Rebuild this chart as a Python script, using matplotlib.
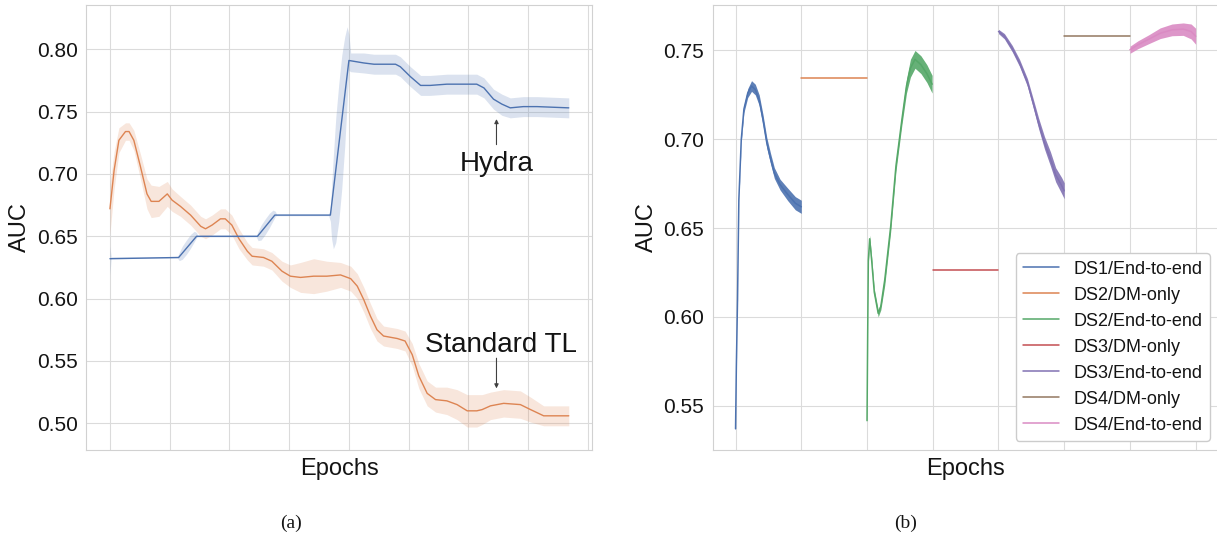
import numpy as np
import matplotlib
matplotlib.use('Agg')
import matplotlib.pyplot as plt
import seaborn as sns

sns.set_style('whitegrid', {'grid.color': '.86', 'axes.edgecolor': '.82'})
plt.rcParams['font.family'] = ['Liberation Sans', 'DejaVu Sans']
plt.rcParams['text.color'] = '0.08'
plt.rcParams['axes.labelcolor'] = '0.08'
plt.rcParams['ytick.color'] = '0.08'

# (a) Hydra vs Standard TL
hydra_epoch = [0, 115, 145, 247, 276, 369, 400, 425, 442, 478, 486, 503, 520, 536,
               564, 614, 626, 642, 656, 670, 692, 715, 768]
hydra_auc = [0.632, 0.633, 0.650, 0.650, 0.667, 0.667, 0.791, 0.789, 0.788, 0.788,
             0.786, 0.778, 0.771, 0.771, 0.772, 0.772, 0.769, 0.760, 0.756, 0.753,
             0.754, 0.754, 0.753]

hydra_band_epoch = [0, 2, 113, 116, 121, 128, 135, 141, 145, 147, 245, 248, 253, 260,
                    267, 273, 277, 279, 366, 369, 371, 374, 378, 383, 388, 393, 397,
                    400, 403, 425, 442, 478, 486, 503, 520, 536, 564, 614, 626, 642,
                    656, 670, 692, 715, 768]
hydra_lo = [0.619, 0.6325, 0.6325, 0.6305, 0.6315, 0.6355, 0.6405, 0.6455, 0.6490, 0.6495,
            0.6495, 0.6465, 0.6470, 0.6515, 0.6570, 0.6625, 0.6660, 0.6665,
            0.6665, 0.662, 0.648, 0.640, 0.645, 0.662, 0.688, 0.722, 0.757,
            0.783, 0.782, 0.781, 0.780, 0.780, 0.778, 0.770, 0.763, 0.763, 0.764,
            0.764, 0.761, 0.752, 0.747, 0.745, 0.746, 0.746, 0.745]
hydra_hi = [0.642, 0.6335, 0.6335, 0.6370, 0.6420, 0.6470, 0.6515, 0.6540, 0.6530, 0.6505,
            0.6505, 0.6540, 0.6590, 0.6640, 0.6685, 0.6710, 0.6700, 0.6675,
            0.6675, 0.672, 0.690, 0.715, 0.745, 0.772, 0.795, 0.810, 0.818,
            0.812, 0.797, 0.797, 0.796, 0.796, 0.794, 0.786, 0.779, 0.779, 0.780,
            0.780, 0.777, 0.768, 0.764, 0.761, 0.762, 0.762, 0.761]

tl_epoch = [0, 7, 15, 26, 32, 40, 51, 62, 69, 82, 96, 104, 118, 135, 152, 160, 171,
            185, 193, 204, 216, 230, 238, 257, 271, 288, 302, 319, 341, 363, 386, 403,
            414, 425, 436, 447, 458, 481, 494, 506, 517, 531, 545, 564, 581, 598, 614,
            623, 637, 659, 687, 704, 726, 748, 768]
tl_auc = [0.672, 0.703, 0.727, 0.734, 0.734, 0.727, 0.706, 0.684, 0.678, 0.678,
          0.684, 0.679, 0.674, 0.667, 0.658, 0.656, 0.659, 0.664, 0.664, 0.659,
          0.648, 0.638, 0.634, 0.633, 0.630, 0.622, 0.618, 0.617, 0.618, 0.618,
          0.619, 0.616, 0.610, 0.599, 0.586, 0.575, 0.570, 0.568, 0.566, 0.555,
          0.538, 0.524, 0.519, 0.518, 0.515, 0.510, 0.510, 0.511, 0.514, 0.516,
          0.515, 0.511, 0.506, 0.506, 0.506]
tl_spread = [0.020, 0.015, 0.010, 0.007, 0.007, 0.008, 0.010, 0.012, 0.013, 0.012,
             0.010, 0.009, 0.008, 0.008, 0.008, 0.008, 0.008, 0.008, 0.008, 0.008,
             0.008, 0.007, 0.007, 0.007, 0.007, 0.008, 0.009, 0.012, 0.014, 0.012,
             0.010, 0.010, 0.010, 0.010, 0.010, 0.009, 0.008, 0.008, 0.008, 0.009,
             0.010, 0.010, 0.010, 0.011, 0.012, 0.013, 0.013, 0.012, 0.011, 0.011,
             0.011, 0.010, 0.008, 0.008, 0.008]

# (b) per-dataset curves (x in units of 100 epochs)
ds1_x = [0, 0.012, 0.03, 0.05, 0.087, 0.127, 0.185, 0.243, 0.30, 0.36, 0.417, 0.475,
         0.533, 0.59, 0.677, 0.793, 0.909, 1.0]
ds1_y = [0.537, 0.572, 0.610, 0.666, 0.700, 0.717, 0.726, 0.730, 0.728, 0.722, 0.711,
         0.698, 0.689, 0.681, 0.6745, 0.669, 0.664, 0.662]
ds1_noise = [0.0005, 0.0005, 0.0005, 0.001, 0.0015, 0.002, 0.0025, 0.003, 0.003, 0.003,
             0.003, 0.003, 0.003, 0.003, 0.003, 0.0035, 0.0037, 0.0037]

ds2_dm_x = [1, 2]
ds2_dm_y = [0.7346, 0.7346]

ds2_x = [2.0, 2.01, 2.02, 2.04, 2.07, 2.11, 2.17, 2.21, 2.27, 2.36, 2.44, 2.53, 2.60,
         2.66, 2.73, 2.82, 2.91, 2.99]
ds2_y = [0.5416, 0.591, 0.632, 0.644, 0.632, 0.614, 0.602, 0.606, 0.621, 0.651, 0.685,
         0.711, 0.730, 0.740, 0.745, 0.742, 0.737, 0.731]
ds2_noise = [0.0005, 0.001, 0.002, 0.002, 0.002, 0.002, 0.002, 0.002, 0.003, 0.003,
             0.003, 0.003, 0.004, 0.005, 0.005, 0.005, 0.005, 0.005]

ds3_dm_x = [3, 4]
ds3_dm_y = [0.6266, 0.6266]

ds3_x = [4.0, 4.09, 4.21, 4.32, 4.44, 4.53, 4.61, 4.70, 4.79, 4.87, 4.96, 5.0]
ds3_y = [0.7607, 0.758, 0.751, 0.743, 0.732, 0.720, 0.709, 0.698, 0.689, 0.680, 0.674,
         0.671]
ds3_noise = [0.0012, 0.0015, 0.0018, 0.002, 0.0022, 0.0025, 0.003, 0.0035, 0.004, 0.004,
             0.0045, 0.0045]

ds4_dm_x = [5, 6]
ds4_dm_y = [0.7582, 0.7582]

ds4_x = [6.0, 6.12, 6.29, 6.46, 6.64, 6.81, 6.93, 7.0]
ds4_y = [0.7504, 0.7532, 0.7564, 0.7597, 0.7616, 0.762, 0.7607, 0.758]
ds4_noise = [0.002, 0.0022, 0.0025, 0.003, 0.0033, 0.0035, 0.0042, 0.0045]

colors = sns.color_palette('deep')

fig = plt.figure(figsize=(12.17, 5.43), dpi=100)
ax1 = fig.add_axes([0.0707, 0.1713, 0.4158, 0.8195])
ax2 = fig.add_axes([0.5855, 0.1713, 0.4159, 0.8195])

# --- (a)
tl_auc_arr = np.array(tl_auc)
tl_spread_arr = np.array(tl_spread)
ax1.fill_between(tl_epoch, tl_auc_arr - tl_spread_arr, tl_auc_arr + tl_spread_arr,
                 color=colors[1], alpha=0.2, lw=0)
ax1.plot(tl_epoch, tl_auc, color=colors[1], lw=1.0)
ax1.fill_between(hydra_band_epoch, hydra_lo, hydra_hi, color=colors[0], alpha=0.2, lw=0)
ax1.plot(hydra_epoch, hydra_auc, color=colors[0], lw=1.0)

ax1.text(647, 0.702, 'Hydra', ha='center', va='baseline', fontsize=20)
ax1.annotate('', xy=(647, 0.744), xytext=(647, 0.7235),
             arrowprops=dict(arrowstyle='-|>', color='0.25', lw=0.8, mutation_scale=6,
                             shrinkA=0, shrinkB=0))
ax1.text(655, 0.5574, 'Standard TL', ha='center', va='baseline', fontsize=20)
ax1.annotate('', xy=(647, 0.528), xytext=(647, 0.5522),
             arrowprops=dict(arrowstyle='-|>', color='0.25', lw=0.8, mutation_scale=6,
                             shrinkA=0, shrinkB=0))

ax1.set_xlim(-40, 807)
ax1.set_ylim(0.4786, 0.8355)
ax1.set_xticks(np.arange(0, 801, 100))
ax1.set_yticks([0.50, 0.55, 0.60, 0.65, 0.70, 0.75, 0.80])
ax1.set_yticklabels(['0.50', '0.55', '0.60', '0.65', '0.70', '0.75', '0.80'])

# --- (b)
for x, y, nz, c, lab in [(ds1_x, ds1_y, ds1_noise, colors[0], 'DS1/End-to-end'),
                         (ds2_dm_x, ds2_dm_y, None, colors[1], 'DS2/DM-only'),
                         (ds2_x, ds2_y, ds2_noise, colors[2], 'DS2/End-to-end'),
                         (ds3_dm_x, ds3_dm_y, None, colors[3], 'DS3/DM-only'),
                         (ds3_x, ds3_y, ds3_noise, colors[4], 'DS3/End-to-end'),
                         (ds4_dm_x, ds4_dm_y, None, colors[5], 'DS4/DM-only'),
                         (ds4_x, ds4_y, ds4_noise, colors[6], 'DS4/End-to-end')]:
    if nz is not None:
        ya = np.array(y)
        na = np.array(nz)
        ax2.fill_between(x, ya - na, ya + na, color=c, alpha=0.9, lw=0)
    ax2.plot(x, y, color=c, lw=1.1, label=lab)

ax2.set_xlim(-0.35, 7.35)
ax2.set_ylim(0.5251, 0.7756)
ax2.set_xticks(np.arange(0, 8, 1))
ax2.set_yticks([0.55, 0.60, 0.65, 0.70, 0.75])
ax2.set_yticklabels(['0.55', '0.60', '0.65', '0.70', '0.75'])
ax2.legend(loc='lower right', fontsize=13, frameon=True, framealpha=1.0)

for ax in (ax1, ax2):
    ax.tick_params(axis='x', labelbottom=False, length=0)
    ax.tick_params(axis='y', labelsize=15, length=0, pad=6)
    ax.set_xlabel('Epochs', fontsize=17, labelpad=6)
    ax.set_ylabel('AUC', fontsize=17)

fig.text(0.239, 0.0368, '(a)', ha='center', va='center', fontsize=14,
         family=['Liberation Serif', 'DejaVu Serif'])
fig.text(0.7445, 0.0368, '(b)', ha='center', va='center', fontsize=14,
         family=['Liberation Serif', 'DejaVu Serif'])

fig.savefig('out.png', dpi=100)
plt.close(fig)
